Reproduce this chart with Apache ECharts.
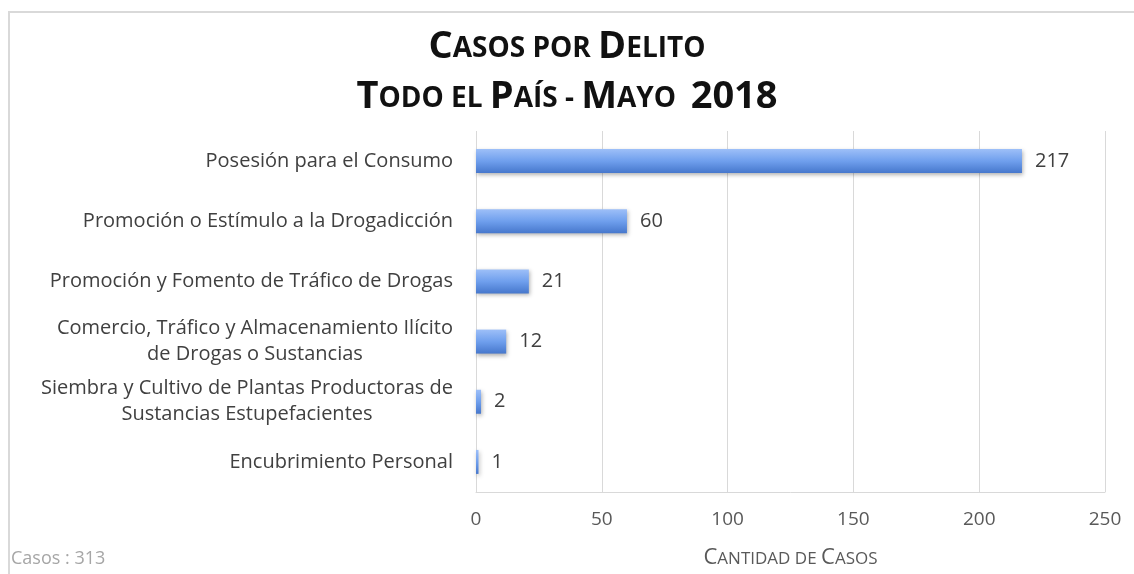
<!DOCTYPE html>
<html>
<head>
<meta charset="utf-8">
<script src="https://cdn.jsdelivr.net/npm/echarts@6/dist/echarts.min.js"></script>
<style>
  html, body { margin: 0; padding: 0; background: #fff; }
  #chart { width: 1134px; height: 574px; }
</style>
</head>
<body>
<div id="chart"></div>
<script>
var categories = [
    'Posesión para el Consumo',
    'Promoción o Estímulo a la Drogadicción',
    'Promoción y Fomento de Tráfico de Drogas',
    'Comercio, Tráfico y Almacenamiento Ilícito\nde Drogas o Sustancias',
    'Siembra y Cultivo de Plantas Productoras de\nSustancias Estupefacientes',
    'Encubrimiento Personal'
];
var casos = [217, 60, 21, 12, 2, 1];
var xTicks = [0, 250, 50];   // min, max, interval

var total = casos.reduce(function (a, b) { return a + b; }, 0);
var fuente = '"Open Sans", Lato, sans-serif';

window.onload = function () {
    var chart = echarts.init(document.getElementById('chart'));
    chart.setOption({
        animation: false,
        textStyle: { fontFamily: fuente },
        title: {
            left: 'center',
            top: 16,
            padding: [0, 0, 0, 18],
            text: '{b|C}{s|ASOS POR }{b|D}{s|ELITO}\n{b|T}{s|ODO EL }{b|P}{s|AÍS - }{b|M}{s|AYO  }{b|2018}',
            textStyle: {
                rich: {
                    b: { fontSize: 38, fontWeight: 'bold', color: '#111', lineHeight: 50, verticalAlign: 'bottom', fontFamily: fuente },
                    s: { fontSize: 28, fontWeight: 'bold', color: '#111', lineHeight: 50, verticalAlign: 'bottom', padding: [0, 0, 3, 0], fontFamily: fuente }
                }
            }
        },
        grid: { left: 476, right: 29, top: 131, bottom: 81 },
        xAxis: {
            type: 'value',
            min: xTicks[0],
            max: xTicks[1],
            interval: xTicks[2],
            name: '{b|C}{s|ANTIDAD DE }{b|C}{s|ASOS}',
            nameLocation: 'middle',
            nameGap: 55,
            nameTextStyle: {
                rich: {
                    b: { fontSize: 22, color: '#595959', verticalAlign: 'bottom', fontFamily: fuente },
                    s: { fontSize: 17, color: '#595959', verticalAlign: 'bottom', padding: [0, 0, 1, 0], fontFamily: fuente }
                }
            },
            axisLine: { show: true, lineStyle: { color: '#d9d9d9', width: 1 } },
            axisTick: { show: false },
            axisLabel: { color: '#595959', fontSize: 19, margin: 18 },
            splitLine: { show: true, lineStyle: { color: '#d9d9d9', width: 1 } }
        },
        yAxis: {
            type: 'category',
            data: categories,
            inverse: true,
            axisLine: { show: false },
            axisTick: { show: false },
            axisLabel: {
                color: '#404040',
                fontSize: 20,
                margin: 23,
                lineHeight: 26,
                formatter: function (v) {
                    return v.split('\n').map(function (l) { return '{c|' + l + '}'; }).join('\n');
                },
                rich: {
                    c: { align: 'center', fontSize: 20, color: '#404040', lineHeight: 26, fontFamily: fuente }
                }
            }
        },
        series: [{
            type: 'bar',
            data: casos,
            barWidth: 24,
            itemStyle: {
                color: new echarts.graphic.LinearGradient(0, 0, 0, 1, [
                    { offset: 0, color: '#9dbff8' },
                    { offset: 0.5, color: '#6f9fed' },
                    { offset: 1, color: '#4677cc' }
                ]),
                shadowColor: 'rgba(0,0,0,0.3)',
                shadowBlur: 4,
                shadowOffsetX: 1,
                shadowOffsetY: 2
            },
            label: {
                show: true,
                position: 'right',
                distance: 13,
                color: '#404040',
                fontSize: 20
            }
        }],
        graphic: [
            {
                type: 'rect',
                shape: { x: 9, y: 12, width: 1300, height: 700 },
                style: { fill: null, stroke: '#d9d9d9', lineWidth: 2 },
                silent: true
            },
            {
                type: 'text',
                left: 11,
                top: 550,
                style: { text: 'Casos : ' + total, fill: '#a6a6a6', fontSize: 18, fontFamily: fuente }
            }
        ]
    });
};
</script>
</body>
</html>
